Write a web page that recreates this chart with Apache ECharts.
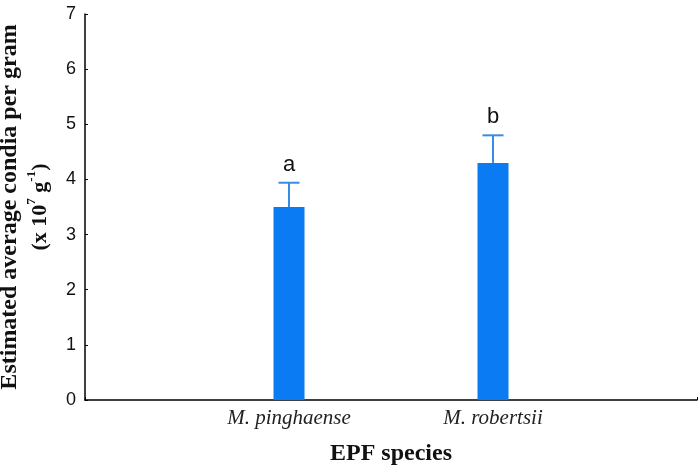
<!DOCTYPE html>
<html><head><meta charset="utf-8">
<script src="https://cdn.jsdelivr.net/npm/echarts@6/dist/echarts.min.js"></script>
<style>html,body{margin:0;padding:0;background:#fff}#c{width:700px;height:473px}</style>
</head><body><div id="c"></div>
<script>
const categories = ['', 'M. pinghaense', 'M. robertsii', ''];
const means = ['-', 3.5, 4.3, '-'];
const errTops = [null, 3.94, 4.8, null];
const letters = ['', 'a', 'b', ''];
const yTicks = [0, 1, 2, 3, 4, 5, 6, 7];

const chart = echarts.init(document.getElementById('c'));
const errData = [];
for (let i = 0; i < categories.length; i++) {
  if (errTops[i] != null) errData.push([i, means[i], errTops[i], letters[i]]);
}
chart.setOption({
  animation: false,
  grid: {left: 85, right: 3, top: 14, bottom: 73, containLabel: false, outerBoundsMode: 'none'},
  xAxis: {
    type: 'category', data: categories, boundaryGap: false,
    axisLine: {lineStyle: {color: '#000', width: 1.5}},
    axisTick: {inside: true, length: 3, lineStyle: {color: '#000'}},
    axisLabel: {fontFamily: 'Liberation Serif', fontStyle: 'italic', fontSize: 21, color: '#222', margin: 8,
      interval: 0},
    name: 'EPF species', nameLocation: 'middle', nameGap: 42,
    nameTextStyle: {fontFamily: 'Liberation Serif', fontWeight: 'bold', fontSize: 24, color: '#111'}
  },
  yAxis: {
    type: 'value', min: 0, max: 7, interval: 1,
    splitLine: {show: false},
    axisLine: {show: true, lineStyle: {color: '#000', width: 1.5}},
    axisTick: {show: true, inside: true, length: 3, lineStyle: {color: '#000'}},
    axisLabel: {fontFamily: 'Liberation Sans', fontSize: 18, color: '#111', margin: 9,
      formatter: v => yTicks.includes(v) ? String(v) : ''},
    name: '{b|Estimated average condia per gram}\n{c|(x 10}{sup|7}{c| g}{sup|-1}{c|)}',
    nameLocation: 'middle', nameGap: 27,
    nameTextStyle: {
      lineHeight: 30,
      rich: {
        b: {fontFamily: 'Liberation Serif', fontWeight: 'bold', fontSize: 24, color: '#111', lineHeight: 30},
        c: {fontFamily: 'Liberation Serif', fontWeight: 'bold', fontSize: 22, color: '#111', lineHeight: 30},
        sup: {fontFamily: 'Liberation Serif', fontWeight: 'bold', fontSize: 13, color: '#111', verticalAlign: 'top', lineHeight: 30, padding: [0, 0, 10, 0]}
      }
    }
  },
  series: [
    {type: 'bar', data: means, barWidth: 31, itemStyle: {color: '#0b7bf4'}, z: 2},
    {
      type: 'custom', data: errData, z: 3,
      renderItem: function (params, api) {
        const x = api.value(0);
        const base = api.coord([x, api.value(1)]);
        const top = api.coord([x, api.value(2)]);
        const half = 10.5;
        const st = {stroke: '#3a8be6', lineWidth: 2};
        return {
          type: 'group',
          children: [
            {type: 'line', shape: {x1: base[0], y1: base[1], x2: top[0], y2: top[1]}, style: st},
            {type: 'line', shape: {x1: top[0] - half, y1: top[1], x2: top[0] + half, y2: top[1]}, style: st},
            {type: 'text', x: top[0], y: top[1] - 7, style: {text: api.value(3), fontFamily: 'Liberation Sans', fontSize: 22, fill: '#111', align: 'center', verticalAlign: 'bottom'}}
          ]
        };
      }
    }
  ]
});
</script></body></html>
